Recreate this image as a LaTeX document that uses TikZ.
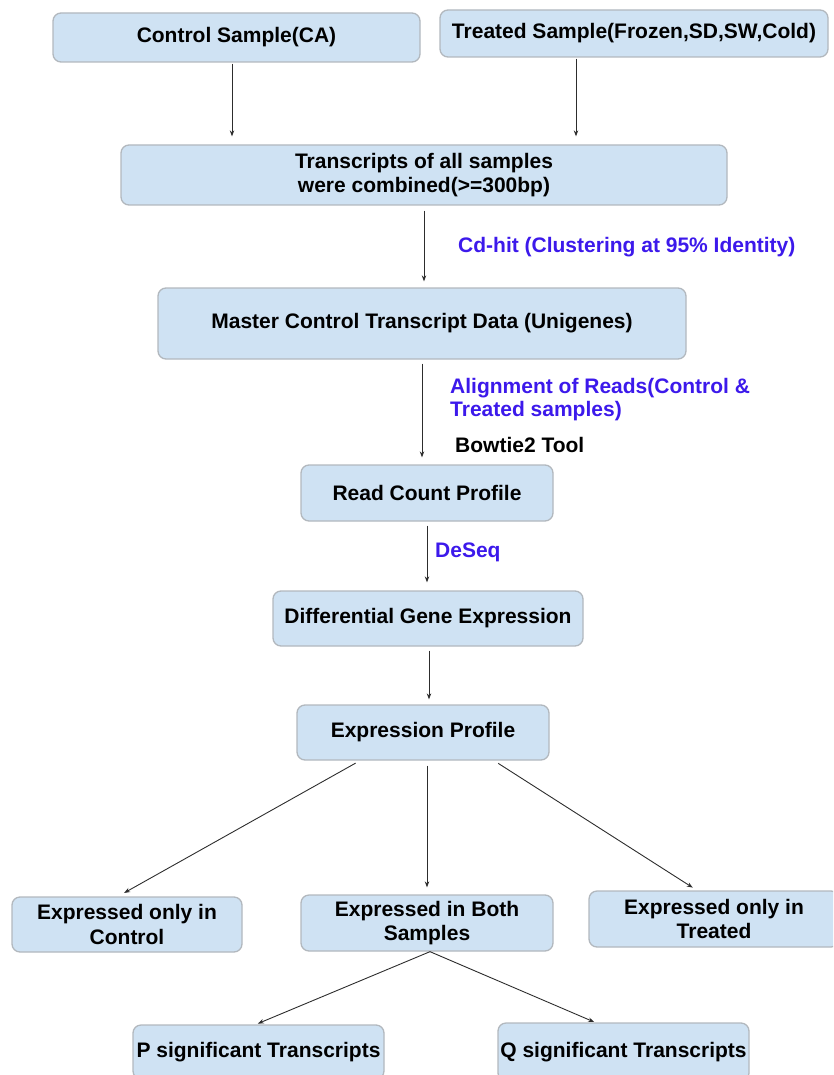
\documentclass[tikz,border=0pt]{standalone}
\usepackage{fontspec}
\setmainfont{Liberation Sans}
\usetikzlibrary{arrows.meta,calc}
\definecolor{boxblue}{RGB}{207,226,243}
\definecolor{boxline}{RGB}{178,184,190}
\definecolor{lblblue}{RGB}{60,25,235}
\definecolor{arrgray}{RGB}{45,45,45}
\begin{document}
\begin{tikzpicture}[x=1pt,y=-1pt,
  font=\fontsize{21pt}{24.5pt}\selectfont\bfseries,
  box/.style={draw=boxline, fill=boxblue, line width=1.3pt, rounded corners=8pt,
    inner sep=0pt, align=center, text=black},
  lbl/.style={anchor=west, inner sep=0pt, align=left, text=lblblue},
  arr/.style={draw=arrgray, line width=0.9pt, -{Stealth[length=6pt,width=4.5pt]}}]
\useasboundingbox (0,0) rectangle (833,1075);
\clip (0,0) rectangle (833,1075);

\node[box, minimum width=367pt, minimum height=49pt] (ctrl) at (236.5,37.5) {Control Sample(CA)};
\node[box, minimum width=388pt, minimum height=47pt] (treat) at (634,33.5) {Treated Sample(Frozen,SD,SW,Cold)};
\node[box, minimum width=606pt, minimum height=60pt] (trans) at (424,175) {Transcripts of all samples\\were combined(>=300bp)};
\node[box, minimum width=528pt, minimum height=71pt] (master) at (422,323.5) {Master Control Transcript Data (Unigenes)};
\node[box, minimum width=252pt, minimum height=56pt] (read) at (427,493) {Read Count Profile};
\node[box, minimum width=310pt, minimum height=55pt] (diff) at (428,618.5) {Differential Gene Expression};
\node[box, minimum width=252pt, minimum height=55pt] (expr) at (423,732.5) {Expression Profile};
\node[box, minimum width=230pt, minimum height=55pt] (onlyc) at (127,924.5) {Expressed only in\\Control};
\node[box, minimum width=252pt, minimum height=56pt] (both) at (427,923) {Expressed in Both\\Samples};
\node[box, minimum width=250pt, minimum height=56pt] (onlyt) at (714,919) {Expressed only in\\Treated};
\node[box, minimum width=251pt, minimum height=54pt] (psig) at (258.5,1052) {P significant Transcripts};
\node[box, minimum width=251pt, minimum height=58pt] (qsig) at (623.5,1052) {Q significant Transcripts};

\node[lbl] (cdhit) at (458,247) {Cd-hit (Clustering at 95\% Identity)};
\node[lbl, font=\fontsize{21pt}{23pt}\selectfont\bfseries] (align) at (450,399.5) {Alignment of Reads(Control \&\\Treated samples)};
\node[lbl, text=black] (bowtie) at (455,445) {Bowtie2 Tool};
\node[lbl] (deseq) at (435,552) {DeSeq};

\draw[arr, shorten <=1pt, shorten >=8pt] ([xshift=-4.5pt]ctrl.south) -- ([xshift=-4.5pt]ctrl.south |- trans.north);
\draw[arr, shorten <=1pt, shorten >=8pt] ([xshift=-58pt]treat.south) -- ([xshift=-58pt]treat.south |- trans.north);
\draw[arr, shorten <=5pt, shorten >=6pt] (trans.south) -- (trans.south |- master.north);
\draw[arr, shorten <=4pt, shorten >=7pt] (master.south) -- (master.south |- read.north);
\draw[arr, shorten <=4pt, shorten >=8pt] (read.south) -- (read.south |- diff.north);
\draw[arr, shorten <=4pt, shorten >=5pt] ([xshift=1pt]diff.south) -- ([xshift=1pt]diff.south |- expr.north);
\draw[arr, shorten <=5pt, shorten >=7pt] ([xshift=-63pt]expr.south) -- ([xshift=-9pt]onlyc.north);
\draw[arr, shorten <=5pt, shorten >=7pt] (both.north |- expr.south) -- (both.north);
\draw[arr, shorten <=5pt, shorten >=5pt] ([xshift=71pt]expr.south) -- ([xshift=-17pt]onlyt.north);
\draw[arr, shorten <=0pt, shorten >=2pt] ([xshift=3pt]both.south) -- ([xshift=-2.5pt]psig.north);
\draw[arr, shorten <=0pt, shorten >=1pt] ([xshift=3pt]both.south) -- ([xshift=-28.5pt]qsig.north);
\end{tikzpicture}
\end{document}
